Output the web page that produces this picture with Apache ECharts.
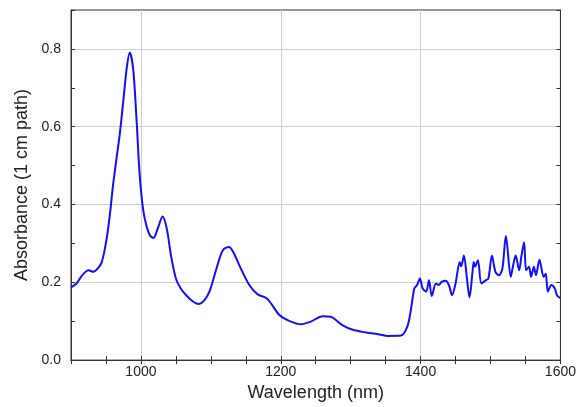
<!DOCTYPE html>
<html>
<head>
<meta charset="utf-8">
<script src="https://cdn.jsdelivr.net/npm/echarts@6/dist/echarts.min.js"></script>
<style>
  html, body { margin: 0; padding: 0; background: #fff; }
  #chart { width: 579px; height: 407px; }
</style>
</head>
<body>
<div id="chart"></div>
<script>
// 光谱数据
var wavelength = [
  900, 908, 916, 925, 932, 937, 944, 951, 956, 960, 965, 970, 975, 980, 984, 989, 994,
  998, 1003, 1008, 1013, 1018, 1024, 1031, 1037, 1043, 1050, 1057, 1065, 1075,
  1083, 1090, 1098, 1108, 1117, 1126, 1132, 1143, 1155, 1167, 1179, 1186,
  1198, 1212, 1229, 1243, 1260, 1272, 1288, 1303, 1322, 1341, 1353, 1372,
  1381, 1386, 1391, 1395, 1399, 1403, 1408, 1412, 1416, 1422, 1426, 1430,
  1436, 1441, 1445, 1450, 1456, 1458, 1462, 1466, 1470, 1474, 1476, 1478,
  1482, 1487, 1493, 1497, 1502, 1507, 1512, 1517, 1522, 1529, 1532, 1536,
  1541, 1544, 1548, 1551, 1555, 1558, 1562, 1565, 1570, 1576, 1579, 1582,
  1587, 1592, 1595, 1600
];
var absorbance = [
  0.187, 0.197, 0.218, 0.231, 0.227, 0.233, 0.252, 0.312, 0.380, 0.448, 0.517, 0.585, 0.670, 0.755, 0.791, 0.747, 0.610,
  0.482, 0.389, 0.345, 0.320, 0.314, 0.338, 0.369, 0.338, 0.269, 0.210, 0.184, 0.166, 0.150,
  0.144, 0.152, 0.176, 0.235, 0.282, 0.291, 0.278, 0.235, 0.193, 0.169, 0.160, 0.146,
  0.116, 0.101, 0.092, 0.099, 0.113, 0.111, 0.090, 0.078, 0.071, 0.066, 0.062, 0.063,
  0.086, 0.128, 0.184, 0.193, 0.210, 0.184, 0.176, 0.205, 0.165, 0.197, 0.193, 0.201,
  0.204, 0.190, 0.167, 0.197, 0.252, 0.241, 0.269, 0.214, 0.161, 0.222, 0.252, 0.240,
  0.257, 0.197, 0.205, 0.210, 0.269, 0.227, 0.218, 0.235, 0.319, 0.214, 0.240, 0.269,
  0.231, 0.265, 0.303, 0.231, 0.240, 0.214, 0.240, 0.218, 0.258, 0.214, 0.222, 0.176,
  0.193, 0.184, 0.167, 0.159
];
// 坐标轴范围与刻度
var xRange = [900, 1600];
var yRange = [0, 0.9];

var seriesData = wavelength.map(function(w, i) { return [w, absorbance[i]]; });

var axisColor = "#333";
var gridColor = "#cfcfcf";
var font = "Liberation Sans, Arial, sans-serif";

var myChart = echarts.init(document.getElementById("chart"));
var option = {
  animation: false,
  grid: {
    left: 71,
    right: 17,
    top: 10,
    bottom: 45,
    show: true,
    borderColor: axisColor,
    borderWidth: 1
  },
  xAxis: [
    {
      type: "value",
      min: xRange[0],
      max: xRange[1],
      interval: 50,
      name: "Wavelength (nm)",
      nameLocation: "middle",
      nameGap: 18,
      nameTextStyle: { fontSize: 18, color: "#222", fontFamily: font },
      axisLine: { lineStyle: { color: axisColor } },
      axisTick: { inside: true, length: 4, lineStyle: { color: axisColor } },
      axisLabel: {
        margin: 5,
        fontSize: 14,
        color: "#222",
        fontFamily: font,
        showMinLabel: false,
        formatter: function(v) { return v % 200 === 0 ? String(v) : ""; }
      },
      // 只在 1000/1200/1400 画网格线
      splitLine: { show: true, lineStyle: { color: ["transparent", "transparent", gridColor, "transparent"] } }
    },
    {
      type: "value",
      position: "top",
      min: xRange[0],
      max: xRange[1],
      interval: 50,
      axisLine: { show: true, lineStyle: { color: axisColor } },
      axisTick: { show: true, inside: true, length: 4, lineStyle: { color: axisColor } },
      axisLabel: { show: false },
      splitLine: { show: false }
    }
  ],
  yAxis: [
    {
      type: "value",
      min: yRange[0],
      max: yRange[1],
      interval: 0.1,
      name: "Absorbance (1 cm path)",
      nameLocation: "middle",
      nameGap: 37,
      nameTextStyle: { fontSize: 18, color: "#222", fontFamily: font },
      axisLine: { show: true, lineStyle: { color: axisColor } },
      axisTick: { show: true, inside: true, length: 4, lineStyle: { color: axisColor } },
      axisLabel: {
        margin: 10,
        fontSize: 14,
        color: "#222",
        fontFamily: font,
        formatter: function(v) {
          var k = Math.round(v * 10);
          return k % 2 === 0 && k < 9 ? (k / 10).toFixed(1) : "";
        }
      },
      splitLine: { show: true, lineStyle: { color: [gridColor, "transparent"] } }
    },
    {
      type: "value",
      position: "right",
      min: yRange[0],
      max: yRange[1],
      interval: 0.1,
      axisLine: { show: true, lineStyle: { color: axisColor } },
      axisTick: { show: true, inside: true, length: 4, lineStyle: { color: axisColor } },
      axisLabel: { show: false },
      splitLine: { show: false }
    }
  ],
  series: [
    {
      type: "line",
      xAxisIndex: 0,
      yAxisIndex: 0,
      data: seriesData,
      smooth: 0.3,
      showSymbol: false,
      lineStyle: { color: "#1010ff", width: 2 }
    }
  ]
};
myChart.setOption(option);
</script>
</body>
</html>
